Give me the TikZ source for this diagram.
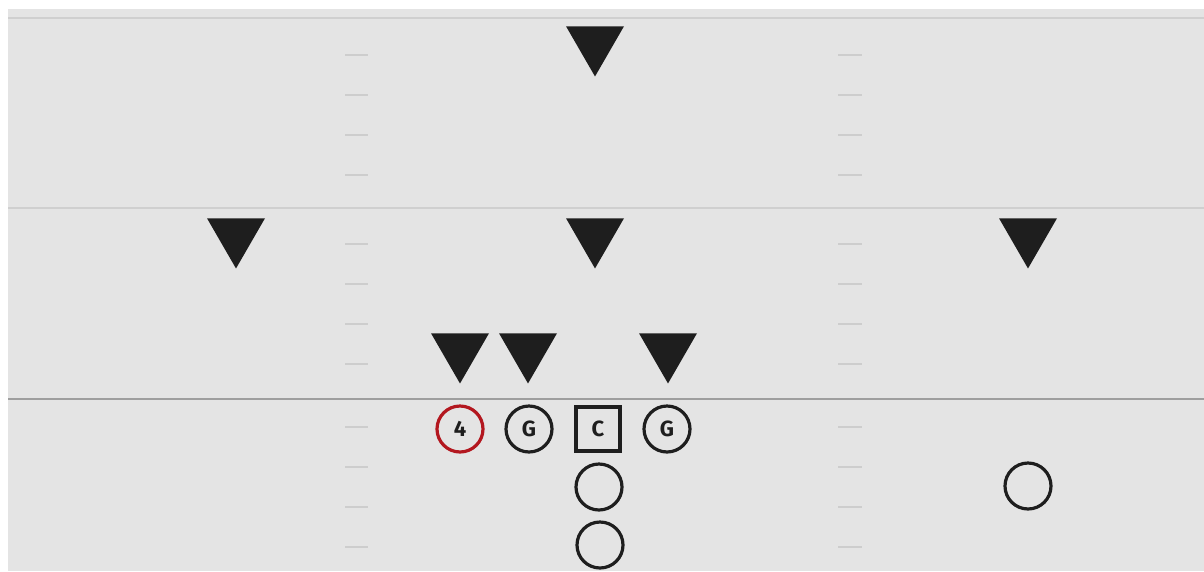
\documentclass[tikz,border=0pt]{standalone}
\usepackage{fontspec}
\setsansfont{Fira Sans}
\usetikzlibrary{shapes.geometric}
\definecolor{field}{HTML}{E4E4E4}
\definecolor{yardline}{HTML}{CFCFCF}
\definecolor{losline}{HTML}{9E9E9E}
\definecolor{hashc}{HTML}{CDCDCD}
\definecolor{ink}{HTML}{1E1E1E}
\definecolor{qbred}{HTML}{B3171F}
\tikzset{
  defender/.style={isosceles triangle, shape border rotate=-90, isosceles triangle apex angle=60, fill=ink, draw=none, minimum width=58pt, minimum height=50pt, inner sep=0pt},
  player/.style={circle, draw=ink, line width=3.2pt, minimum size=46pt, inner sep=0pt, font=\sffamily\bfseries\fontsize{22}{22}\selectfont, text=ink},
  centerbox/.style={rectangle, draw=ink, line width=3.2pt, minimum size=44pt, inner sep=0pt, font=\sffamily\bfseries\fontsize{22}{22}\selectfont, text=ink},
  hashmark/.style={draw=hashc, line width=2.8pt},
}
\begin{document}
\begin{tikzpicture}[x=1pt,y=-1pt]
\useasboundingbox (0,0) rectangle (1204,571);
\fill[white] (0,0) rectangle (1204,571);
\fill[field] (8,9) rectangle (1204,571);
% yard lines
\coordinate (l1a) at (8,18); \coordinate (l1b) at (1204,18);
\coordinate (l2a) at (8,208); \coordinate (l2b) at (1204,208);
\coordinate (l3a) at (8,399); \coordinate (l3b) at (1204,399);
\draw[yardline, line width=2.5pt] (l1a) -- (l1b);
\draw[yardline, line width=2pt] (l2a) -- (l2b);
\draw[losline, line width=2.5pt] (l3a) -- (l3b);
% hash marks
\foreach \y in {55,95,135,175,244,284,324,364,427,467,507,547}{
  \draw[hashmark] (345,\y) -- (368,\y);
  \draw[hashmark] (838,\y) -- (862,\y);
}
% defenders
\node[defender] (d1) at (595,43) {};
\node[defender] (d2) at (236,235) {};
\node[defender] (d3) at (595,235) {};
\node[defender] (d4) at (1028,235) {};
\node[defender] (d5) at (460,350) {};
\node[defender] (d6) at (528,350) {};
\node[defender] (d7) at (668,350) {};
% offense
\node[player, draw=qbred] (qb) at (460,429) {4};
\node[player] (g1) at (529,429) {G};
\node[centerbox] (c) at (598,429) {C};
\node[player] (g2) at (667,429) {G};
\node[player] (b1) at (599,487) {};
\node[player] (b2) at (600,545) {};
\node[player] (wr) at (1028,486) {};
\end{tikzpicture}
\end{document}
